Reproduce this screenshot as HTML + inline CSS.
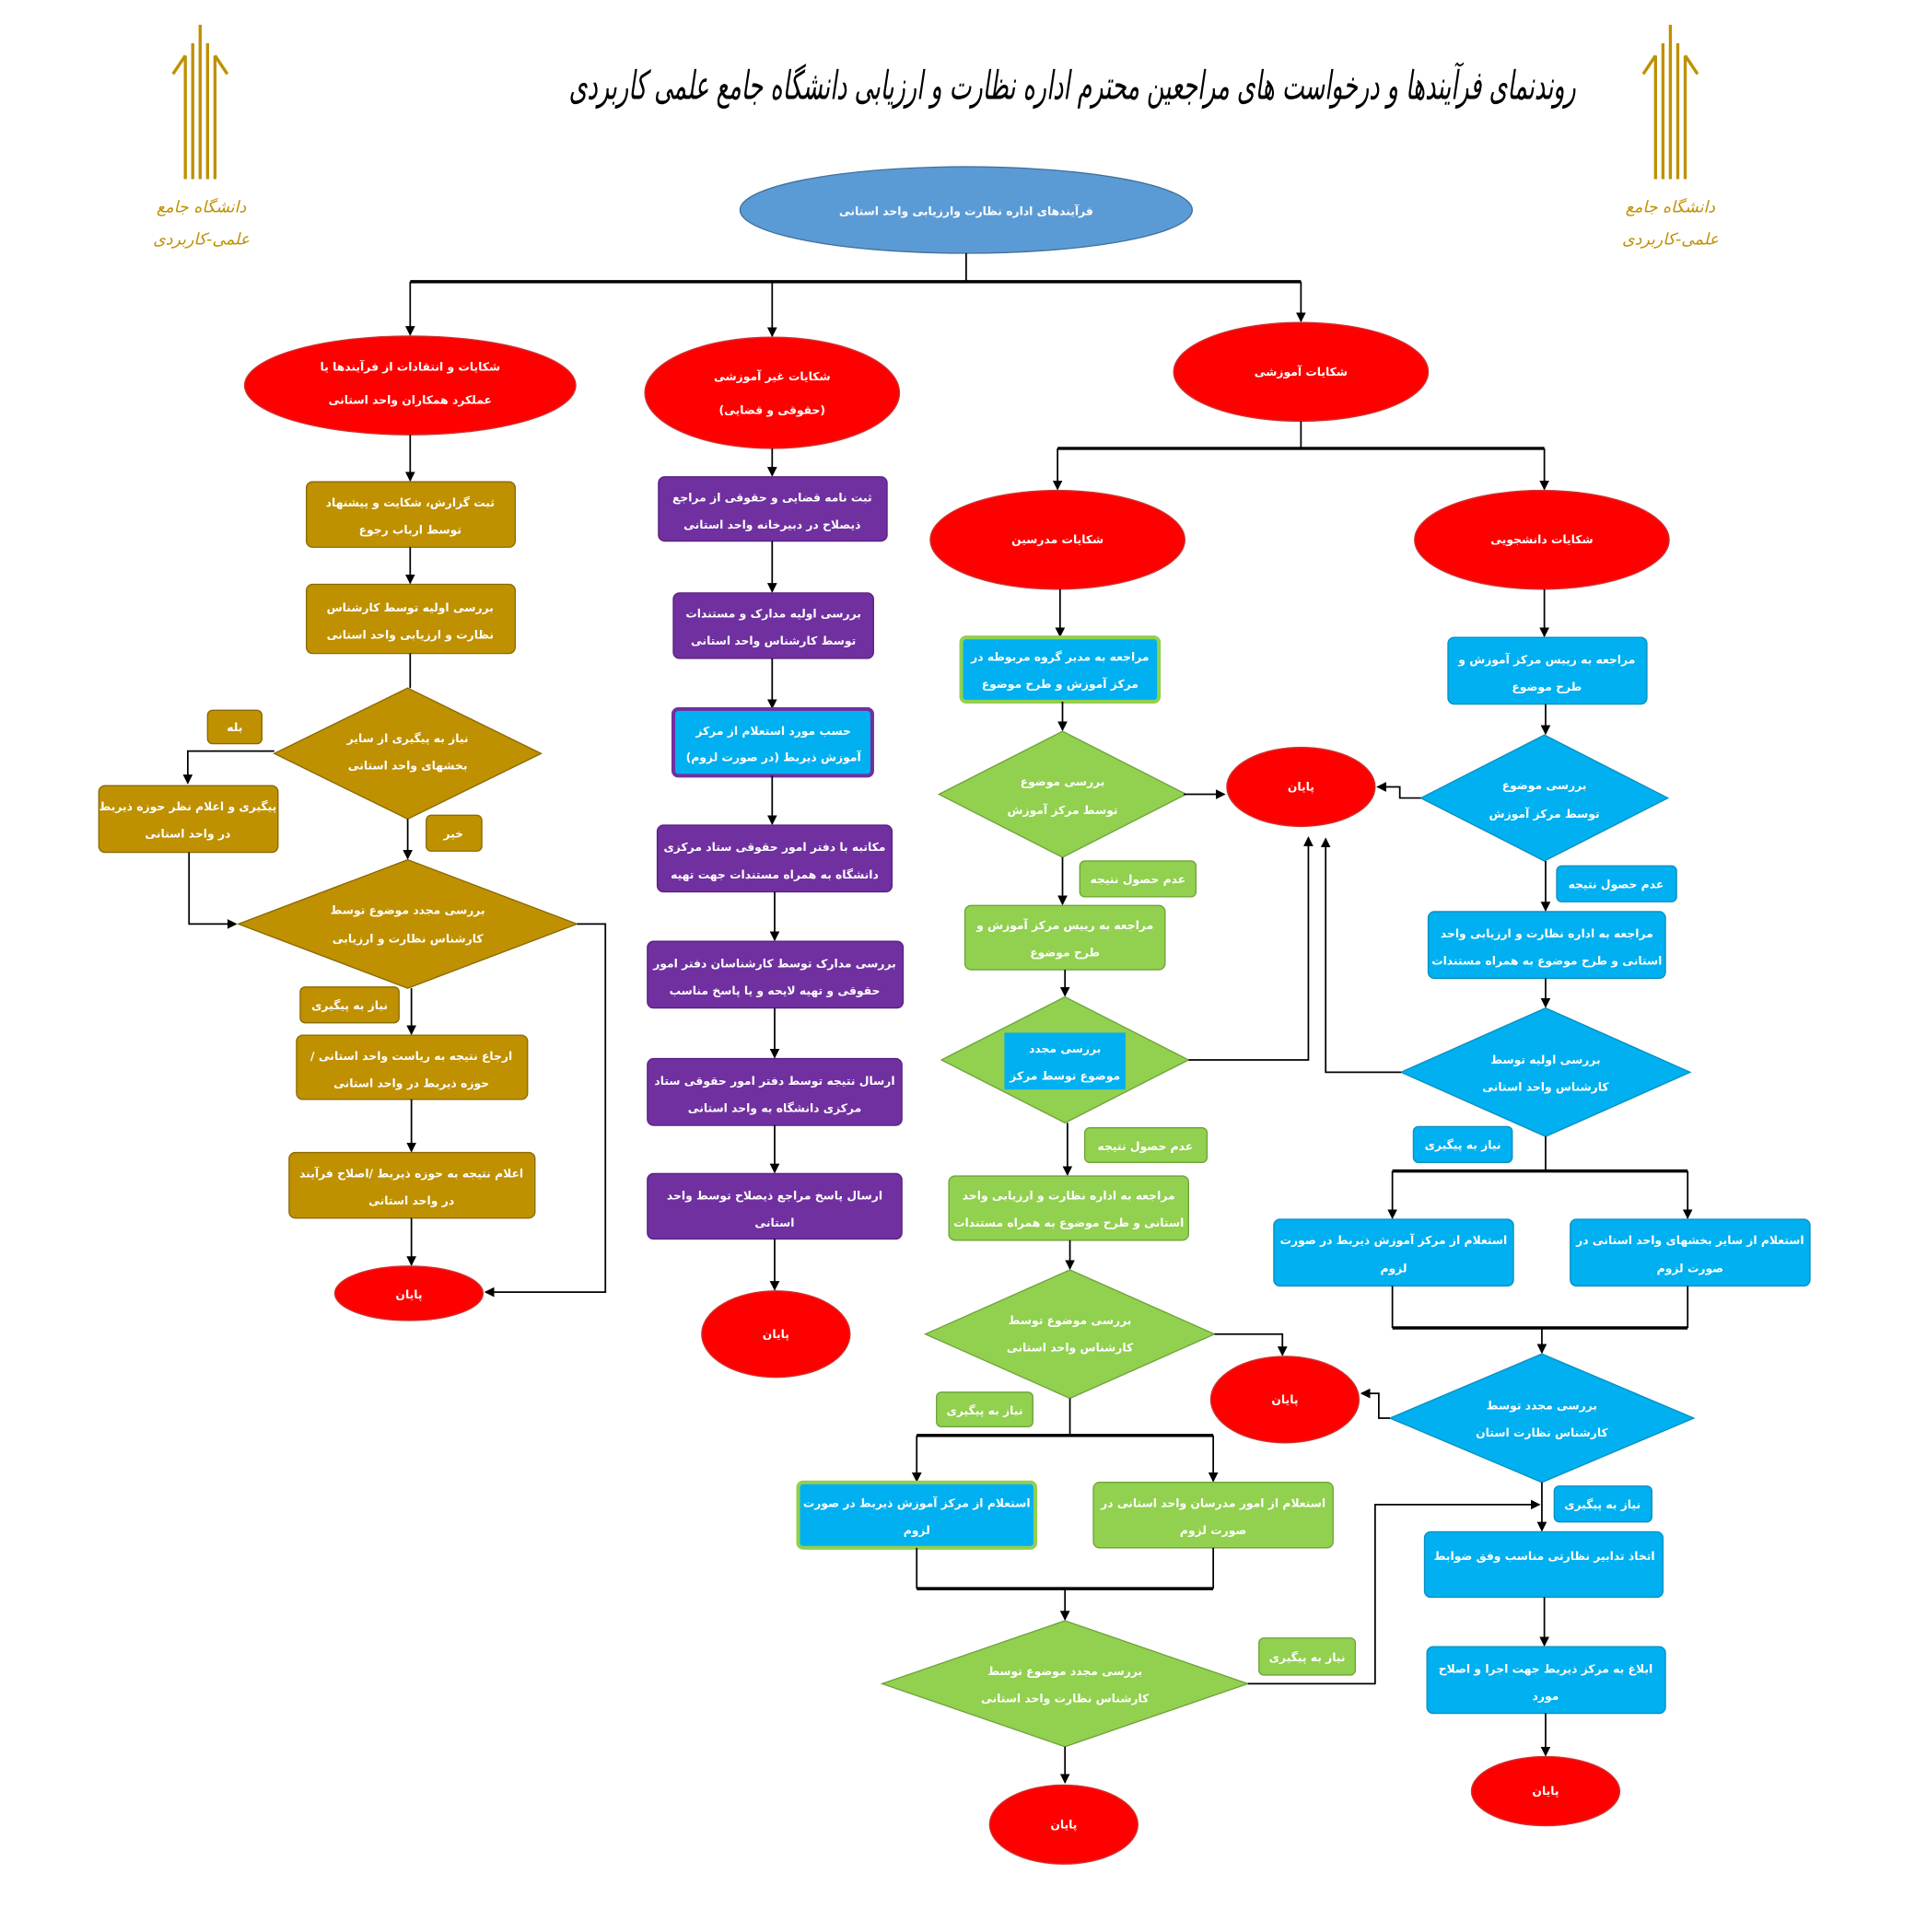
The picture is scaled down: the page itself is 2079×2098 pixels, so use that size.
<!DOCTYPE html>
<html><head><meta charset="utf-8"><style>
html,body{margin:0;padding:0;background:#fff;}
svg{display:block}
text{font-family:"DejaVu Sans","Liberation Sans",sans-serif;font-weight:bold;fill:#fff;font-size:9.2px;text-anchor:middle;direction:rtl;unicode-bidi:embed}
.t{font-size:32px;fill:#000;font-style:italic;font-weight:normal;font-family:"DejaVu Serif","Liberation Serif",serif}
.lg{fill:#bf9000;font-size:13px;font-weight:normal;font-style:italic}
.l{stroke:#000;stroke-width:1.3;fill:none}
.b{stroke:#000;stroke-width:2.6;fill:none}
.r{fill:#f00;stroke:#c33;stroke-width:1}
.g{fill:#bf9000;stroke:#8a6a00;stroke-width:1}
.p{fill:#7030a0;stroke:#5a2080;stroke-width:1}
.gr{fill:#92d050;stroke:#6ea33a;stroke-width:1}
.c{fill:#00b0f0;stroke:#0a8fc0;stroke-width:1}
</style></head><body>
<svg width="2079" height="2098" viewBox="0 0 1550 1564" preserveAspectRatio="none" xmlns="http://www.w3.org/2000/svg">
<defs><marker id="a" markerWidth="8" markerHeight="8" refX="7" refY="4" orient="auto" markerUnits="userSpaceOnUse"><path d="M0,0 L8,4 L0,8 z" fill="#000"/></marker></defs>

<!-- logos -->
<g stroke="#bf9000" stroke-width="2.5">
<line x1="150" y1="45" x2="150" y2="145"/><line x1="156" y1="35" x2="156" y2="145"/><line x1="162" y1="20" x2="162" y2="145"/><line x1="168" y1="35" x2="168" y2="145"/><line x1="174" y1="45" x2="174" y2="145"/>
<line x1="140" y1="60" x2="150" y2="45"/><line x1="184" y1="60" x2="174" y2="45"/>
<line x1="1340" y1="45" x2="1340" y2="145"/><line x1="1346" y1="35" x2="1346" y2="145"/><line x1="1352" y1="20" x2="1352" y2="145"/><line x1="1358" y1="35" x2="1358" y2="145"/><line x1="1364" y1="45" x2="1364" y2="145"/>
<line x1="1330" y1="60" x2="1340" y2="45"/><line x1="1374" y1="60" x2="1364" y2="45"/>
</g>
<text class="lg" x="163" y="172">دانشگاه جامع</text><text class="lg" x="163" y="198">علمی-کاربردی</text>
<text class="lg" x="1352" y="172">دانشگاه جامع</text><text class="lg" x="1352" y="198">علمی-کاربردی</text>
<text class="t" x="868" y="80" textLength="815" lengthAdjust="spacingAndGlyphs">روندنمای فرآیندها و درخواست های مراجعین محترم اداره نظارت و ارزیابی دانشگاه جامع علمی کاربردی</text>

<!-- top -->
<ellipse cx="782" cy="170" rx="183" ry="35" fill="#5b9bd5" stroke="#41719c"/>
<text x="782" y="174">فرآیندهای اداره نظارت وارزیابی واحد استانی</text>
<path class="l" d="M782,205 V228"/><path class="b" d="M332,228 H1053"/>
<path class="l" d="M332,228 V271" marker-end="url(#a)"/><path class="l" d="M625,228 V272" marker-end="url(#a)"/><path class="l" d="M1053,228 V260" marker-end="url(#a)"/>

<ellipse class="r" cx="332" cy="312" rx="134" ry="40"/><text x="332" y="300">شکایات و انتقادات از فرآیندها یا</text><text x="332" y="327">عملکرد همکاران واحد استانی</text>
<ellipse class="r" cx="625" cy="318" rx="103" ry="45"/><text x="625" y="308">شکایات غیر آموزشی</text><text x="625" y="335">(حقوقی و قضایی)</text>
<ellipse class="r" cx="1053" cy="301" rx="103" ry="40"/><text x="1053" y="304">شکایات آموزشی</text>
<path class="l" d="M1053,341 V363"/><path class="b" d="M856,363 H1250"/>
<path class="l" d="M856,363 V396" marker-end="url(#a)"/><path class="l" d="M1250,363 V396" marker-end="url(#a)"/>
<ellipse class="r" cx="856" cy="437" rx="103" ry="40"/><text x="856" y="440">شکایات مدرسین</text>
<ellipse class="r" cx="1248" cy="437" rx="103" ry="40"/><text x="1248" y="440">شکایات دانشجویی</text>

<!-- left column -->
<path class="l" d="M332,352 V389" marker-end="url(#a)"/>
<rect class="g" x="248" y="390" width="169" height="53" rx="5"/><text x="332" y="410">ثبت گزارش، شکایت و پیشنهاد</text><text x="332" y="432">توسط ارباب رجوع</text>
<path class="l" d="M332,443 V472" marker-end="url(#a)"/>
<rect class="g" x="248" y="473" width="169" height="56" rx="5"/><text x="332" y="495">بررسی اولیه توسط کارشناس</text><text x="332" y="517">نظارت و ارزیابی واحد استانی</text>
<path class="l" d="M332,529 V557"/>
<polygon class="g" points="330,557 438,610 330,663 222,610"/><text x="330" y="601">نیاز به پیگیری از سایر</text><text x="330" y="623">بخشهای واحد استانی</text>
<rect class="g" x="168" y="575" width="44" height="27" rx="4"/><text x="190" y="592">بله</text>
<path class="l" d="M222,608 H152 V634" marker-end="url(#a)"/>
<rect class="g" x="80" y="636" width="145" height="54" rx="5"/><text x="152" y="656">پیگیری و اعلام نظر حوزه ذیربط</text><text x="152" y="678">در واحد استانی</text>
<rect class="g" x="345" y="660" width="45" height="29" rx="4"/><text x="367" y="678">خیر</text>
<path class="l" d="M330,663 V695" marker-end="url(#a)"/>
<polygon class="g" points="330,696 467,748 330,800 193,748"/><text x="330" y="740">بررسی مجدد موضوع توسط</text><text x="330" y="763">کارشناس نظارت و ارزیابی</text>
<path class="l" d="M153,690 V748 H191" marker-end="url(#a)"/>
<path class="l" d="M467,748 H490 V1046 H393" marker-end="url(#a)"/>
<rect class="g" x="243" y="799" width="80" height="29" rx="4"/><text x="283" y="817">نیاز به پیگیری</text>
<path class="l" d="M333,800 V837" marker-end="url(#a)"/>
<rect class="g" x="240" y="838" width="187" height="52" rx="5"/><text x="333" y="858">ارجاع نتیجه به ریاست واحد استانی /</text><text x="333" y="880">حوزه ذیربط در واحد استانی</text>
<path class="l" d="M333,890 V932" marker-end="url(#a)"/>
<rect class="g" x="234" y="933" width="199" height="53" rx="5"/><text x="333" y="953">اعلام نتیجه به حوزه ذیربط /اصلاح فرآیند</text><text x="333" y="975">در واحد استانی</text>
<path class="l" d="M333,986 V1024" marker-end="url(#a)"/>
<ellipse class="r" cx="331" cy="1047" rx="60" ry="22"/><text x="331" y="1051">پایان</text>

<!-- middle column -->
<path class="l" d="M625,363 V385" marker-end="url(#a)"/>
<rect class="p" x="533" y="386" width="185" height="52" rx="5"/><text x="625" y="406">ثبت نامه قضایی و حقوقی از مراجع</text><text x="625" y="428">ذیصلاح در دبیرخانه واحد استانی</text>
<path class="l" d="M625,438 V479" marker-end="url(#a)"/>
<rect class="p" x="545" y="480" width="162" height="53" rx="5"/><text x="626" y="500">بررسی اولیه مدارک و مستندات</text><text x="626" y="522">توسط کارشناس واحد استانی</text>
<path class="l" d="M625,533 V573" marker-end="url(#a)"/>
<rect x="545" y="574" width="161" height="54" rx="4" fill="#00b0f0" stroke="#7030a0" stroke-width="3"/><text x="626" y="595">حسب مورد استعلام از مرکز</text><text x="626" y="616">آموزش ذیربط (در صورت لزوم)</text>
<path class="l" d="M625,628 V667" marker-end="url(#a)"/>
<rect class="p" x="532" y="668" width="190" height="54" rx="5"/><text x="627" y="689">مکاتبه با دفتر امور حقوقی ستاد مرکزی</text><text x="627" y="711">دانشگاه به همراه مستندات جهت تهیه</text>
<path class="l" d="M627,722 V761" marker-end="url(#a)"/>
<rect class="p" x="524" y="762" width="207" height="54" rx="5"/><text x="627" y="783">بررسی مدارک توسط کارشناسان دفتر امور</text><text x="627" y="805">حقوقی و تهیه لایحه و یا پاسخ مناسب</text>
<path class="l" d="M627,816 V856" marker-end="url(#a)"/>
<rect class="p" x="524" y="857" width="206" height="54" rx="5"/><text x="627" y="878">ارسال نتیجه توسط دفتر امور حقوقی ستاد</text><text x="627" y="900">مرکزی دانشگاه به واحد استانی</text>
<path class="l" d="M627,911 V949" marker-end="url(#a)"/>
<rect class="p" x="524" y="950" width="206" height="53" rx="5"/><text x="627" y="971">ارسال پاسخ مراجع ذیصلاح توسط واحد</text><text x="627" y="993">استانی</text>
<path class="l" d="M627,1003 V1044" marker-end="url(#a)"/>
<ellipse class="r" cx="628" cy="1080" rx="60" ry="35"/><text x="628" y="1083">پایان</text>

<!-- teachers column -->
<path class="l" d="M858,477 V515" marker-end="url(#a)"/>
<rect x="778" y="516" width="160" height="52" rx="4" fill="#00b0f0" stroke="#92d050" stroke-width="3"/><text x="858" y="535">مراجعه به مدیر گروه مربوطه در</text><text x="858" y="557">مرکز آموزش و طرح موضوع</text>
<path class="l" d="M860,568 V591" marker-end="url(#a)"/>
<polygon class="gr" points="860,592 960,643 860,694 760,643"/><text x="860" y="636">بررسی موضوع</text><text x="860" y="659">توسط مرکز آموزش</text>
<path class="l" d="M958,643 H991" marker-end="url(#a)"/>
<ellipse class="r" cx="1053" cy="637" rx="60" ry="32"/><text x="1053" y="640">پایان</text>
<rect class="gr" x="874" y="697" width="94" height="29" rx="4"/><text x="921" y="715">عدم حصول نتیجه</text>
<path class="l" d="M860,694 V732" marker-end="url(#a)"/>
<rect class="gr" x="781" y="733" width="162" height="52" rx="5"/><text x="862" y="752">مراجعه به رییس مرکز آموزش و</text><text x="862" y="774">طرح موضوع</text>
<path class="l" d="M862,785 V806" marker-end="url(#a)"/>
<polygon class="gr" points="862,807 962,858 862,909 762,858"/>
<rect x="813" y="836" width="98" height="46" fill="#00b0f0"/><text x="862" y="852">بررسی مجدد</text><text x="862" y="874">موضوع توسط مرکز</text>
<path class="l" d="M962,858 H1059 V678" marker-end="url(#a)"/>
<rect class="gr" x="878" y="913" width="99" height="28" rx="4"/><text x="927" y="931">عدم حصول نتیجه</text>
<path class="l" d="M864,909 V951" marker-end="url(#a)"/>
<rect class="gr" x="768" y="952" width="194" height="52" rx="5"/><text x="865" y="971">مراجعه به اداره نظارت و ارزیابی واحد</text><text x="865" y="993">استانی و طرح موضوع به همراه مستندات</text>
<path class="l" d="M866,1004 V1027" marker-end="url(#a)"/>
<polygon class="gr" points="866,1028 983,1080 866,1132 749,1080"/><text x="866" y="1072">بررسی موضوع توسط</text><text x="866" y="1094">کارشناس واحد استانی</text>
<path class="l" d="M983,1080 H1038 V1097" marker-end="url(#a)"/>
<ellipse class="r" cx="1040" cy="1133" rx="60" ry="35"/><text x="1040" y="1136">پایان</text>
<rect class="gr" x="758" y="1127" width="78" height="28" rx="4"/><text x="797" y="1145">نیاز به پیگیری</text>
<path class="l" d="M866,1132 V1162"/><path class="b" d="M742,1162 H982"/>
<path class="l" d="M742,1162 V1199" marker-end="url(#a)"/><path class="l" d="M982,1162 V1199" marker-end="url(#a)"/>
<rect x="646" y="1200" width="192" height="53" rx="4" fill="#00b0f0" stroke="#92d050" stroke-width="3"/><text x="742" y="1220">استعلام از مرکز آموزش ذیربط در صورت</text><text x="742" y="1242">لزوم</text>
<rect class="gr" x="885" y="1200" width="194" height="53" rx="5"/><text x="982" y="1220">استعلام از امور مدرسان واحد استانی در</text><text x="982" y="1242">صورت لزوم</text>
<path class="l" d="M742,1253 V1286"/><path class="l" d="M982,1253 V1286"/><path class="b" d="M742,1286 H982"/>
<path class="l" d="M862,1286 V1311" marker-end="url(#a)"/>
<polygon class="gr" points="862,1312 1010,1363 862,1414 714,1363"/><text x="862" y="1356">بررسی مجدد موضوع توسط</text><text x="862" y="1378">کارشناس نظارت واحد استانی</text>
<path class="l" d="M1010,1363 H1113 V1218 H1246" marker-end="url(#a)"/>
<rect class="gr" x="1019" y="1326" width="78" height="30" rx="4"/><text x="1058" y="1345">نیاز به پیگیری</text>
<path class="l" d="M862,1414 V1443" marker-end="url(#a)"/>
<ellipse class="r" cx="861" cy="1477" rx="60" ry="32"/><text x="861" y="1480">پایان</text>

<!-- students column -->
<path class="l" d="M1250,477 V515" marker-end="url(#a)"/>
<rect class="c" x="1172" y="516" width="161" height="54" rx="5"/><text x="1252" y="537">مراجعه به رییس مرکز آموزش و</text><text x="1252" y="559">طرح موضوع</text>
<path class="l" d="M1251,570 V594" marker-end="url(#a)"/>
<polygon class="c" points="1250,595 1350,646 1250,697 1150,646"/><text x="1250" y="639">بررسی موضوع</text><text x="1250" y="662">توسط مرکز آموزش</text>
<path class="l" d="M1150,646 H1133 V637 H1115" marker-end="url(#a)"/>
<rect class="c" x="1260" y="701" width="97" height="29" rx="4"/><text x="1308" y="719">عدم حصول نتیجه</text>
<path class="l" d="M1251,697 V737" marker-end="url(#a)"/>
<rect class="c" x="1156" y="738" width="192" height="54" rx="5"/><text x="1252" y="759">مراجعه به اداره نظارت و ارزیابی واحد</text><text x="1252" y="781">استانی و طرح موضوع به همراه مستندات</text>
<path class="l" d="M1251,792 V815" marker-end="url(#a)"/>
<polygon class="c" points="1251,816 1368,868 1251,920 1134,868"/><text x="1251" y="861">بررسی اولیه توسط</text><text x="1251" y="883">کارشناس واحد استانی</text>
<path class="l" d="M1134,868 H1073 V679" marker-end="url(#a)"/>
<rect class="c" x="1144" y="912" width="80" height="29" rx="4"/><text x="1184" y="930">نیاز به پیگیری</text>
<path class="l" d="M1251,920 V948"/><path class="b" d="M1127,948 H1366"/>
<path class="l" d="M1127,948 V986" marker-end="url(#a)"/><path class="l" d="M1366,948 V986" marker-end="url(#a)"/>
<rect class="c" x="1031" y="987" width="194" height="54" rx="5"/><text x="1128" y="1007">استعلام از مرکز آموزش ذیربط در صورت</text><text x="1128" y="1030">لزوم</text>
<rect class="c" x="1271" y="987" width="194" height="54" rx="5"/><text x="1368" y="1007">استعلام از سایر بخشهای واحد استانی در</text><text x="1368" y="1030">صورت لزوم</text>
<path class="l" d="M1127,1041 V1075"/><path class="l" d="M1366,1041 V1075"/><path class="b" d="M1127,1075 H1366"/>
<path class="l" d="M1248,1075 V1095" marker-end="url(#a)"/>
<polygon class="c" points="1248,1096 1371,1148 1248,1200 1125,1148"/><text x="1248" y="1141">بررسی مجدد توسط</text><text x="1248" y="1163">کارشناس نظارت استان</text>
<path class="l" d="M1125,1148 H1116 V1128 H1102" marker-end="url(#a)"/>
<path class="l" d="M1248,1200 V1239" marker-end="url(#a)"/>
<rect class="c" x="1258" y="1203" width="79" height="29" rx="4"/><text x="1297" y="1221">نیاز به پیگیری</text>
<rect class="c" x="1153" y="1240" width="193" height="53" rx="5"/><text x="1250" y="1263">اتخاذ تدابیر نظارتی مناسب وفق ضوابط</text>
<path class="l" d="M1250,1293 V1332" marker-end="url(#a)"/>
<rect class="c" x="1155" y="1333" width="193" height="54" rx="5"/><text x="1251" y="1354">ابلاغ به مرکز ذیربط جهت اجرا و اصلاح</text><text x="1251" y="1376">مورد</text>
<path class="l" d="M1251,1387 V1421" marker-end="url(#a)"/>
<ellipse class="r" cx="1251" cy="1450" rx="60" ry="28"/><text x="1251" y="1453">پایان</text>
</svg>
</body></html>
